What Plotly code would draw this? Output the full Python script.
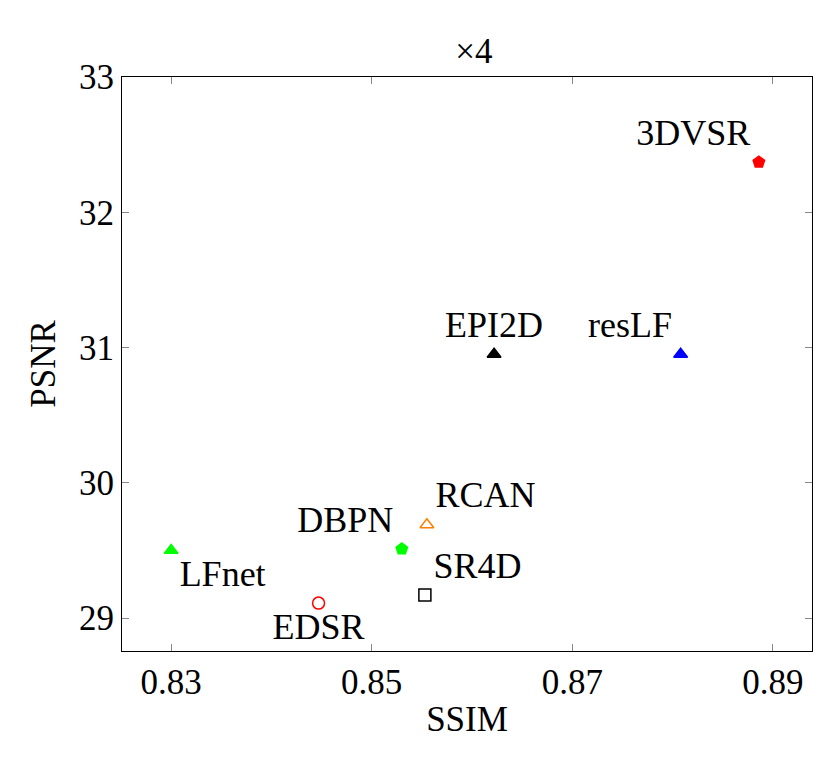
import plotly.graph_objects as go

methods = ["3DVSR", "resLF", "EPI2D", "RCAN", "DBPN", "SR4D", "EDSR", "LFnet"]
ssim = [0.8886, 0.8808, 0.8622, 0.8555, 0.8530, 0.8553, 0.8447, 0.8300]
psnr = [32.37, 30.95, 30.95, 29.69, 29.51, 29.17, 29.11, 29.50]
symbols = ["pentagon", "triangle-up", "triangle-up", "triangle-up-open", "pentagon", "square-open", "circle-open", "triangle-up"]
colors = ["red", "blue", "black", "#ff7f00", "#00ff00", "black", "red", "#00ff00"]
textpos = ["top left", "top left", "top center", "top right", "top left", "top right", "bottom center", "bottom right"]

fig = go.Figure()
for m, x, y, s, c, tp in zip(methods, ssim, psnr, symbols, colors, textpos):
    fig.add_trace(go.Scatter(x=[x], y=[y], mode="markers+text", text=[m], textposition=tp,
                             marker=dict(symbol=s, color=c, size=12, line=dict(color=c, width=1.5)),
                             textfont=dict(size=36, color="black"), showlegend=False))

ax = dict(showgrid=False, zeroline=False, showline=True, linecolor="black", linewidth=1.2,
          mirror="ticks", ticks="inside", ticklen=7, tickcolor="#888", tickfont=dict(size=35))
fig.update_layout(
    width=832, height=773, plot_bgcolor="white", paper_bgcolor="white",
    font=dict(family="Liberation Serif", color="black"),
    title=dict(text="×4", x=0.56, xanchor="center", y=0.96, font=dict(size=35)),
    margin=dict(l=114, r=28, t=69, b=130),
    xaxis=dict(ax, range=[0.8251, 0.8939], tickvals=[0.83, 0.85, 0.87, 0.89], ticktext=["0.83", "0.85", "0.87", "0.89"],
               title=dict(text="SSIM", font=dict(size=35), standoff=5)),
    yaxis=dict(ax, range=[28.756, 33], tickvals=[29, 30, 31, 32, 33],
               title=dict(text="PSNR", font=dict(size=35), standoff=12)),
)
fig.write_html("out.html")
